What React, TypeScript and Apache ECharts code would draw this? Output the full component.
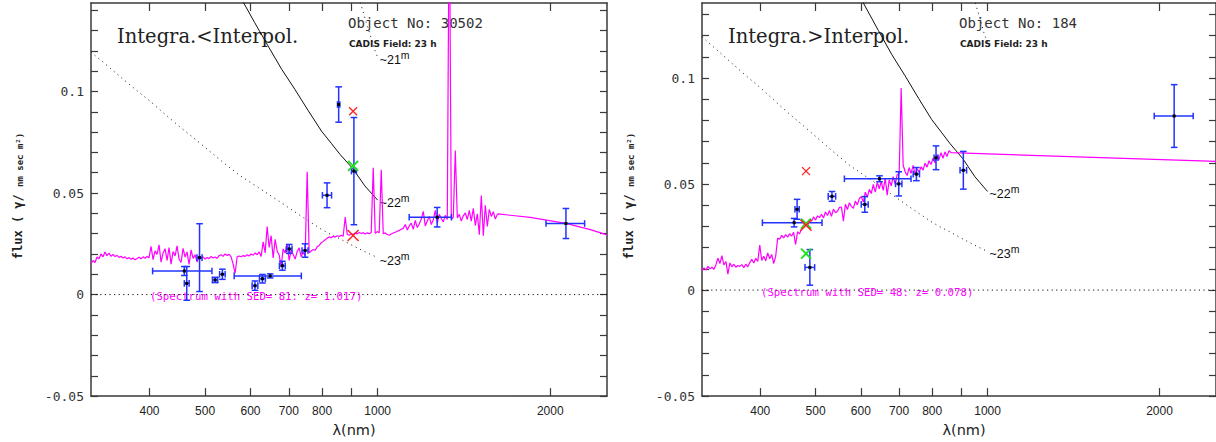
import React, { useEffect, useRef } from "react";
import * as echarts from "echarts";

// ---------- axis ranges and ticks ----------
const WAVE_MIN = 316.2278;
const WAVE_MAX = 2511.886;
const FLUX_MIN = -0.05;
const LEFT_FLUX_MAX = 0.1436;
const RIGHT_FLUX_MAX = 0.1354;

const xTickValues = [400, 500, 600, 700, 800, 900, 1000, 2000];
const xLabelValues = [400, 500, 600, 700, 800, 1000, 2000];
const yTickValues = [
  -0.05, -0.04, -0.03, -0.02, -0.01, 0, 0.01, 0.02, 0.03, 0.04, 0.05, 0.06, 0.07,
  0.08, 0.09, 0.1, 0.11, 0.12, 0.13, 0.14,
];
const yLabelValues = [-0.05, 0, 0.05, 0.1];

// ---------- constant-magnitude curves (flux vs wavelength) ----------
const mag21Wave = [900, 915, 930, 945, 960, 975, 985, 1000];
const mag21Flux = [0.158, 0.151, 0.145, 0.1385, 0.132, 0.126, 0.1215, 0.1168];
const mag22Wave = [560, 584, 610, 644, 680, 717, 757, 798, 830, 860, 905, 950, 1000];
const mag22Flux = [0.156, 0.1436, 0.134, 0.1224, 0.111, 0.1011, 0.0905, 0.0805, 0.0745, 0.069, 0.062, 0.0535, 0.0465];
const mag23Wave = [316, 340, 360, 380, 400, 425, 450, 475, 500, 537, 575, 624, 676, 732, 794, 826, 860, 895, 930, 965, 1000];
const mag23Flux = [0.1195, 0.112, 0.106, 0.1005, 0.0955, 0.089, 0.083, 0.0777, 0.0725, 0.0652, 0.0586, 0.0521, 0.0456, 0.039, 0.0325, 0.0298, 0.0274, 0.0248, 0.0224, 0.0202, 0.0182];

// ---------- object 30502: spectrum (log-uniform sampling over the range) ----------
const leftSpecRange = [316.23, 1617];
const leftSpecFlux = [
  0.0152, 0.0168, 0.0158, 0.0185, 0.0176, 0.0200, 0.0186, 0.0210, 0.0192, 0.0204,
  0.0188, 0.0198, 0.0187, 0.0193, 0.0183, 0.0189, 0.0180, 0.0186, 0.0176, 0.0182,
  0.0174, 0.0180, 0.0171, 0.0178, 0.0184, 0.0176, 0.0186, 0.0179, 0.0188, 0.0181,
  0.0238, 0.0172, 0.0215, 0.0198, 0.0245, 0.0160, 0.0205, 0.0226, 0.0168, 0.0232,
  0.0150, 0.0212, 0.0190, 0.0240, 0.0175, 0.0158, 0.0228, 0.0185, 0.0210, 0.0148,
  0.0220, 0.0178, 0.0196, 0.0160, 0.0190, 0.0178, 0.0186, 0.0175, 0.0183, 0.0177,
  0.0188, 0.0180, 0.0185, 0.0178, 0.0192, 0.0196, 0.0188, 0.0200, 0.0193, 0.0198,
  0.0186, 0.0150, 0.0105, 0.0185, 0.0190, 0.0186, 0.0192, 0.0188, 0.0196, 0.0190,
  0.0200, 0.0194, 0.0205, 0.0196, 0.0210, 0.0188, 0.0260, 0.0205, 0.0335, 0.0232,
  0.0290, 0.0180, 0.0272, 0.0215, 0.0195, 0.0138, 0.0225, 0.0205, 0.0248, 0.0168,
  0.0220, 0.0198, 0.0175, 0.0212, 0.0230, 0.0186, 0.0208, 0.0192, 0.0605, 0.0205,
  0.0215, 0.0222, 0.0218, 0.0235, 0.0242, 0.0255, 0.0262, 0.0270, 0.0278, 0.0284,
  0.0280, 0.0287, 0.0283, 0.0290, 0.0286, 0.0292, 0.0288, 0.0382, 0.0296, 0.0292,
  0.0300, 0.0296, 0.0304, 0.0299, 0.0306, 0.0301, 0.0305, 0.0298, 0.0304, 0.0300,
  0.0306, 0.0625, 0.0302, 0.0310, 0.0304, 0.0615, 0.0300, 0.0304, 0.0296, 0.0292,
  0.0298, 0.0303, 0.0307, 0.0312, 0.0316, 0.0322, 0.0326, 0.0345, 0.0318, 0.0338,
  0.0352, 0.0322, 0.0365, 0.0330, 0.0348, 0.0372, 0.0410, 0.0338, 0.0362, 0.0385,
  0.0345, 0.0368, 0.0415, 0.0352, 0.0395, 0.0375, 0.0358, 0.0390, 0.0370, 0.2000,
  0.0372, 0.0380, 0.0710, 0.0378, 0.0395, 0.0362, 0.0388, 0.0402, 0.0370, 0.0415,
  0.0362, 0.0425, 0.0340, 0.0398, 0.0295, 0.0488, 0.0290, 0.0440, 0.0335, 0.0420,
  0.0385, 0.0408, 0.0372, 0.0395,
];
const leftTailWave = [1623, 1845, 2130, 2349, 2512];
const leftTailFlux = [0.0397, 0.038, 0.0351, 0.032, 0.0294];

// object 30502: filter photometry
const leftPtWave = [460, 464.5, 489, 520.6, 536, 611, 629.5, 649.4, 682, 701, 747, 816, 855, 909, 1270, 2130];
const leftPtFlux = [0.0116, 0.0055, 0.0182, 0.0072, 0.01, 0.0044, 0.0078, 0.0092, 0.0142, 0.0225, 0.0217, 0.0489, 0.0936, 0.0608, 0.0381, 0.035];
const leftPtWaveLo = [405, 460, 484, 515, 530, 604, 622, 562, 674, 693, 738, 801, 851, 900, 1135, 1966];
const leftPtWaveHi = [514, 469, 494, 526, 542, 618, 637, 736, 690, 709, 756, 831, 859, 918, 1345, 2296];
const leftPtFluxErr = [0.0022, 0.0083, 0.0167, 0.0013, 0.0025, 0.0023, 0.0021, 0.001, 0.0022, 0.0022, 0.0033, 0.0061, 0.0087, 0.0264, 0.0048, 0.0074];

const leftRedHighWave = [906];
const leftRedHighFlux = [0.0903];
const leftRedLowWave = [906];
const leftRedLowFlux = [0.0291];
const leftGreenWave = [906];
const leftGreenFlux = [0.0634];

// ---------- object 184 ----------
const rightSpecRange = [316.23, 862.8];
const rightSpecFlux = [
  0.0092, 0.0105, 0.0095, 0.0112, 0.0100, 0.0108, 0.0098, 0.0120, 0.0150, 0.0125,
  0.0162, 0.0118, 0.0135, 0.0075, 0.0128, 0.0110, 0.0122, 0.0108, 0.0116, 0.0112,
  0.0120, 0.0106, 0.0122, 0.0110, 0.0130, 0.0145, 0.0128, 0.0150, 0.0135, 0.0212,
  0.0140, 0.0160, 0.0138, 0.0175, 0.0148, 0.0168, 0.0125, 0.0160, 0.0245, 0.0240,
  0.0258, 0.0246, 0.0262, 0.0250, 0.0266, 0.0255, 0.0272, 0.0215, 0.0275, 0.0265,
  0.0290, 0.0305, 0.0318, 0.0300, 0.0335, 0.0325, 0.0345, 0.0330, 0.0350, 0.0342,
  0.0358, 0.0340, 0.0368, 0.0352, 0.0375, 0.0348, 0.0382, 0.0365, 0.0372, 0.0390,
  0.0392, 0.0325, 0.0405, 0.0380, 0.0412, 0.0395, 0.0385, 0.0420, 0.0402, 0.0432,
  0.0440, 0.0415, 0.0462, 0.0438, 0.0475, 0.0455, 0.0498, 0.0462, 0.0508, 0.0478,
  0.0512, 0.0470, 0.0528, 0.0448, 0.0520, 0.0492, 0.0535, 0.0500, 0.0545, 0.0548,
  0.0953, 0.0590, 0.0558, 0.0540, 0.0578, 0.0550, 0.0588, 0.0545, 0.0572, 0.0556,
  0.0582, 0.0566, 0.0598, 0.0580, 0.0610, 0.0592, 0.0622, 0.0600, 0.0638, 0.0615,
  0.0648, 0.0622, 0.0652, 0.0630, 0.0658, 0.0648,
];
const rightTailWave = [863, 2512];
const rightTailFlux = [0.0648, 0.0607];

const rightPtWave = [458.5, 464, 488.5, 534, 609.6, 646.9, 699, 750.6, 812.4, 907, 2122];
const rightPtFlux = [0.0318, 0.0381, 0.0107, 0.0442, 0.0404, 0.0525, 0.0501, 0.0547, 0.0624, 0.0565, 0.0821];
const rightPtWaveLo = [403.4, 460, 479, 526, 601, 561.5, 690, 741, 806, 895, 1958];
const rightPtWaveHi = [513, 468, 498, 542, 618, 734.5, 708, 760, 819, 919, 2291];
const rightPtFluxErr = [0.002, 0.0047, 0.0084, 0.0023, 0.0037, 0.0014, 0.0057, 0.0031, 0.0056, 0.0089, 0.0148];

const rightRedHighWave = [481];
const rightRedHighFlux = [0.0561];
const rightRedLowWave = [481];
const rightRedLowFlux = [0.0306];
const rightGreenWave = [481, 481];
const rightGreenFlux = [0.0313, 0.0172];

// ---------- styling ----------
const AXIS_COLOR = "#3a3a3a";
const TEXT_COLOR = "#222";
const SPEC_COLOR = "#ff00ff";
const BAR_COLOR = "#2233ff";
const RED = "#ff2222";
const GREEN = "#22e022";
const MONO = "DejaVu Sans Mono";

const zip = (a: number[], b: number[]) => a.map((v, i) => [v, b[i]]);
const logGrid = (range: number[], n: number) =>
  Array.from({ length: n }, (_, k) => range[0] * Math.pow(range[1] / range[0], k / (n - 1)));

function errorBarItem(_params: any, api: any) {
  const w = api.value(0);
  const f = api.value(1);
  const c = api.coord([w, f]);
  const l = api.coord([api.value(2), f]);
  const r = api.coord([api.value(3), f]);
  const t = api.coord([w, f + api.value(4)]);
  const b = api.coord([w, f - api.value(4)]);
  const cap = 3.3;
  const st = { stroke: BAR_COLOR, lineWidth: 1.5 };
  const ln = (x1: number, y1: number, x2: number, y2: number) => ({
    type: "line",
    shape: { x1, y1, x2, y2 },
    style: st,
  });
  return {
    type: "group",
    children: [
      ln(l[0], l[1], r[0], r[1]),
      ln(l[0], l[1] - cap, l[0], l[1] + cap),
      ln(r[0], r[1] - cap, r[0], r[1] + cap),
      ln(t[0], t[1], b[0], b[1]),
      ln(t[0] - cap, t[1], t[0] + cap, t[1]),
      ln(b[0] - cap, b[1], b[0] + cap, b[1]),
      { type: "rect", shape: { x: c[0] - 1.5, y: c[1] - 1.5, width: 3, height: 3 }, style: { fill: "#000" } },
    ],
  };
}

const crossItem = (size: number, color: string, width: number) => (_params: any, api: any) => {
  const p = api.coord([api.value(0), api.value(1)]);
  const s = size / 2;
  const st = { stroke: color, lineWidth: width };
  return {
    type: "group",
    children: [
      { type: "line", shape: { x1: p[0] - s, y1: p[1] - s, x2: p[0] + s, y2: p[1] + s }, style: st },
      { type: "line", shape: { x1: p[0] - s, y1: p[1] + s, x2: p[0] + s, y2: p[1] - s }, style: st },
    ],
  };
};

const magLabel = (mag: string) => ({
  show: true,
  distance: 2,
  offset: [0, 1],
  formatter: `{t|~${mag}}{s|m}`,
  rich: {
    t: { fontSize: 12.5, fontFamily: "Liberation Sans", color: "#111", lineHeight: 17, verticalAlign: "bottom" },
    s: { fontSize: 10.5, fontFamily: "Liberation Sans", color: "#111", lineHeight: 11, verticalAlign: "top" },
  },
});

function xAxes(gridIndex: number) {
  const common = {
    type: "log",
    logBase: 10,
    gridIndex,
    min: WAVE_MIN,
    max: WAVE_MAX,
    splitLine: { show: false },
    minorTick: { show: false },
    axisLine: { show: true, onZero: false, lineStyle: { color: AXIS_COLOR, width: 1.5 } },
    axisTick: { show: true, inside: true, length: 8, customValues: xTickValues, lineStyle: { color: AXIS_COLOR, width: 1.2 } },
  };
  return [
    {
      ...common,
      position: "bottom",
      axisLabel: {
        show: true,
        customValues: xLabelValues,
        margin: 9,
        color: TEXT_COLOR,
        fontSize: 12,
        fontFamily: "Liberation Sans",
        formatter: (v: number) => String(Math.round(v)),
      },
      name: "λ(nm)",
      nameLocation: "middle",
      nameGap: 21,
      nameTextStyle: { fontSize: 14.5, fontFamily: "DejaVu Sans", color: TEXT_COLOR, padding: [0, 0, 0, 10] },
    },
    { ...common, position: "top", axisLabel: { show: false } },
  ];
}

function yAxes(gridIndex: number, max: number) {
  const common = {
    type: "value",
    gridIndex,
    min: FLUX_MIN,
    max,
    splitLine: { show: false },
    axisLine: { show: true, onZero: false, lineStyle: { color: AXIS_COLOR, width: 1.5 } },
    axisTick: { show: true, inside: true, length: 7, customValues: yTickValues, lineStyle: { color: AXIS_COLOR, width: 1.2 } },
  };
  return [
    {
      ...common,
      position: "left",
      axisLabel: {
        show: true,
        customValues: yLabelValues,
        margin: 7,
        color: "#333",
        fontSize: 13,
        fontFamily: MONO,
        formatter: (v: number) => String(v),
      },
    },
    { ...common, position: "right", axisLabel: { show: false } },
  ];
}

function panelSeries(p: number, d: any) {
  const ax = { xAxisIndex: p * 2, yAxisIndex: p * 2 };
  const spec = logGrid(d.specRange, d.specFlux.length)
    .map((w, i) => [w, d.specFlux[i]])
    .concat(zip(d.tailWave, d.tailFlux));
  const pts = d.ptWave.map((w: number, i: number) => [w, d.ptFlux[i], d.ptLo[i], d.ptHi[i], d.ptErr[i]]);
  const dotted = { color: "#111", width: 1, type: [1, 4] };
  return [
    {
      type: "line", ...ax, z: 1, symbol: "none", silent: true,
      data: [[WAVE_MIN, 0], [WAVE_MAX, 0]],
      lineStyle: { color: "#111", width: 1, type: [1.2, 3.4] },
    },
    {
      type: "line", ...ax, z: 2, symbol: "none", silent: true,
      data: zip(mag23Wave, mag23Flux), lineStyle: dotted, endLabel: magLabel("23"),
    },
    {
      type: "line", ...ax, z: 2, symbol: "none", silent: true,
      data: zip(mag22Wave, mag22Flux), lineStyle: { color: "#111", width: 1 }, endLabel: magLabel("22"),
    },
    {
      type: "line", ...ax, z: 2, symbol: "none", silent: true,
      data: zip(mag21Wave, mag21Flux), lineStyle: dotted,
      endLabel: d.show21 ? magLabel("21") : { show: false },
    },
    {
      type: "line", ...ax, z: 3, symbol: "none", silent: true,
      data: spec, lineStyle: { color: SPEC_COLOR, width: 1.2 },
    },
    {
      type: "custom", ...ax, z: 4, silent: true, renderItem: errorBarItem,
      encode: { x: [0, 2, 3], y: 1 }, data: pts,
    },
    {
      type: "custom", ...ax, z: 5, silent: true, renderItem: crossItem(10, GREEN, 2),
      encode: { x: 0, y: 1 }, data: zip(d.greenWave, d.greenFlux),
    },
    {
      type: "custom", ...ax, z: 6, silent: true, renderItem: crossItem(8, RED, 1.3),
      encode: { x: 0, y: 1 }, data: zip(d.redHighWave, d.redHighFlux),
    },
    {
      type: "custom", ...ax, z: 6, silent: true, renderItem: crossItem(11, RED, 1.5),
      encode: { x: 0, y: 1 }, data: zip(d.redLowWave, d.redLowFlux),
    },
  ];
}

function panelText(x0: number, title: string, objectNo: string, sedText: string, sedY: number) {
  return [
    {
      type: "text", x: x0 + 26, y: 36,
      style: { text: title, fontSize: 19.5, fontFamily: "DejaVu Serif", fill: TEXT_COLOR, align: "left", verticalAlign: "middle" },
    },
    {
      type: "text", x: x0 + 257, y: 23,
      style: { text: `Object No: ${objectNo}`, fontSize: 14, fontFamily: MONO, fill: "#333", align: "left", verticalAlign: "middle" },
    },
    {
      type: "text", x: x0 + 258, y: 43.5,
      style: { text: "CADIS Field: 23 h", fontSize: 9, fontWeight: "bold", fontFamily: "DejaVu Sans", fill: TEXT_COLOR, align: "left", verticalAlign: "middle" },
    },
    {
      type: "text", x: x0 + 59, y: sedY,
      style: { text: sedText, fontSize: 10.7, fontFamily: MONO, fill: SPEC_COLOR, align: "left", verticalAlign: "middle" },
    },
    {
      type: "text", x: x0 - 74, y: 196, rotation: Math.PI / 2,
      style: {
        text: "{a|flux ( γ/ }{b|nm sec m²)}",
        align: "center",
        verticalAlign: "middle",
        rich: {
          a: { fontSize: 12, fontWeight: "bold", fontFamily: MONO, fill: TEXT_COLOR, lineHeight: 14, verticalAlign: "bottom" },
          b: { fontSize: 9, fontWeight: "bold", fontFamily: MONO, fill: TEXT_COLOR, lineHeight: 14, verticalAlign: "bottom" },
        },
      },
    },
  ];
}

const leftPanel = {
  specRange: leftSpecRange, specFlux: leftSpecFlux, tailWave: leftTailWave, tailFlux: leftTailFlux,
  ptWave: leftPtWave, ptFlux: leftPtFlux, ptLo: leftPtWaveLo, ptHi: leftPtWaveHi, ptErr: leftPtFluxErr,
  redHighWave: leftRedHighWave, redHighFlux: leftRedHighFlux, redLowWave: leftRedLowWave, redLowFlux: leftRedLowFlux,
  greenWave: leftGreenWave, greenFlux: leftGreenFlux, show21: true,
};
const rightPanel = {
  specRange: rightSpecRange, specFlux: rightSpecFlux, tailWave: rightTailWave, tailFlux: rightTailFlux,
  ptWave: rightPtWave, ptFlux: rightPtFlux, ptLo: rightPtWaveLo, ptHi: rightPtWaveHi, ptErr: rightPtFluxErr,
  redHighWave: rightRedHighWave, redHighFlux: rightRedHighFlux, redLowWave: rightRedLowWave, redLowFlux: rightRedLowFlux,
  greenWave: rightGreenWave, greenFlux: rightGreenFlux, show21: false,
};

export default function App() {
  const ref = useRef<HTMLDivElement>(null);
  useEffect(() => {
    if (!ref.current) return;
    const chart = echarts.init(ref.current, null, { renderer: "svg" });
    chart.setOption({
      animation: false,
      backgroundColor: "#fff",
      grid: [
        { left: 91, top: 3, width: 516, height: 395 },
        { left: 702, top: 3, width: 516, height: 395 },
      ],
      xAxis: [...xAxes(0), ...xAxes(1)],
      yAxis: [...yAxes(0, LEFT_FLUX_MAX), ...yAxes(1, RIGHT_FLUX_MAX)],
      series: [...panelSeries(0, leftPanel), ...panelSeries(1, rightPanel)],
      graphic: [
        ...panelText(91, "Integra.<Interpol.", "30502", "(Spectrum with SED= 81: z= 1.017)", 296.5),
        ...panelText(702, "Integra.>Interpol.", "184", "(Spectrum with SED= 48: z= 0.078)", 292),
      ],
    });
    return () => chart.dispose();
  }, []);
  return (
    <div
      ref={ref}
      style={{ position: "fixed", left: 0, top: 0, width: 1216, height: 442, background: "#fff" }}
    />
  );
}
